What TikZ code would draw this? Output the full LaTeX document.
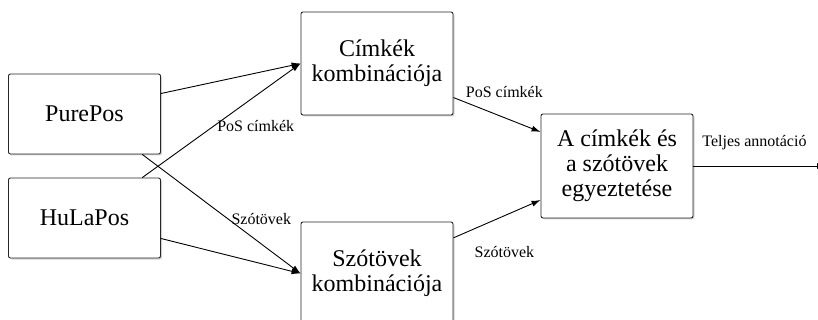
\documentclass[tikz,border=0pt]{standalone}
\usepackage{fontspec}
\setmainfont{Liberation Serif}
\usetikzlibrary{arrows.meta,shadows}

\begin{document}
\begin{tikzpicture}[x=1pt,y=-1pt,
    modul/.style ={rectangle, draw=black!85, rounded corners=2pt, fill=white,
      line width=0.9pt, minimum width=152pt, align=center,
      font=\fontsize{24}{25}\selectfont,
      drop shadow={shadow xshift=1.5pt, shadow yshift=-1.5pt, fill=black!35}},
    nyil/.style ={line width=0.9pt, -{Latex[length=9pt,width=6pt]}},
    felirat/.style ={font=\fontsize{16}{18}\selectfont}]
   \useasboundingbox (0,0) rectangle (818,320);
   \clip (0,0) rectangle (818,320);

   \node[modul, minimum height=80pt] (purepos) at (84.5,114) {PurePos};
   \node[modul, minimum height=80pt] (hulapos) at (84.5,218) {HuLaPos};
   \node[modul, minimum height=103pt] (cimkek) at (377,63.5) {Címkék\\kombinációja};
   \node[modul, minimum height=103pt] (szotovek) at (377,273.5) {Szótövek\\kombinációja};
   \node[modul, minimum height=104pt] (egyeztetes) at (617,166) {A címkék és\\a szótövek\\egyeztetése};
   \coordinate (kimenet) at (826,166);

   \draw[nyil] (purepos.15) to (cimkek.west);
   \draw[nyil] (hulapos.35) to node[felirat, pos=.45, anchor=west] {PoS címkék} (cimkek.west);
   \draw[nyil] (purepos.-35) to node[felirat, pos=.54, anchor=west] {Szótövek} (szotovek.west);
   \draw[nyil] (hulapos.-15) to (szotovek.west);
   \draw[nyil] (cimkek.-24) to node[felirat, pos=.1, anchor=south west] {PoS címkék} (egyeztetes.156);
   \draw[nyil] (szotovek.25) to node[felirat, pos=.2, anchor=north west, yshift=-12pt] {Szótövek} (egyeztetes.204);
   \draw[nyil] (egyeztetes.east) to node[felirat, pos=.46, above=12pt] {Teljes annotáció} (kimenet);
 \end{tikzpicture}
\end{document}
